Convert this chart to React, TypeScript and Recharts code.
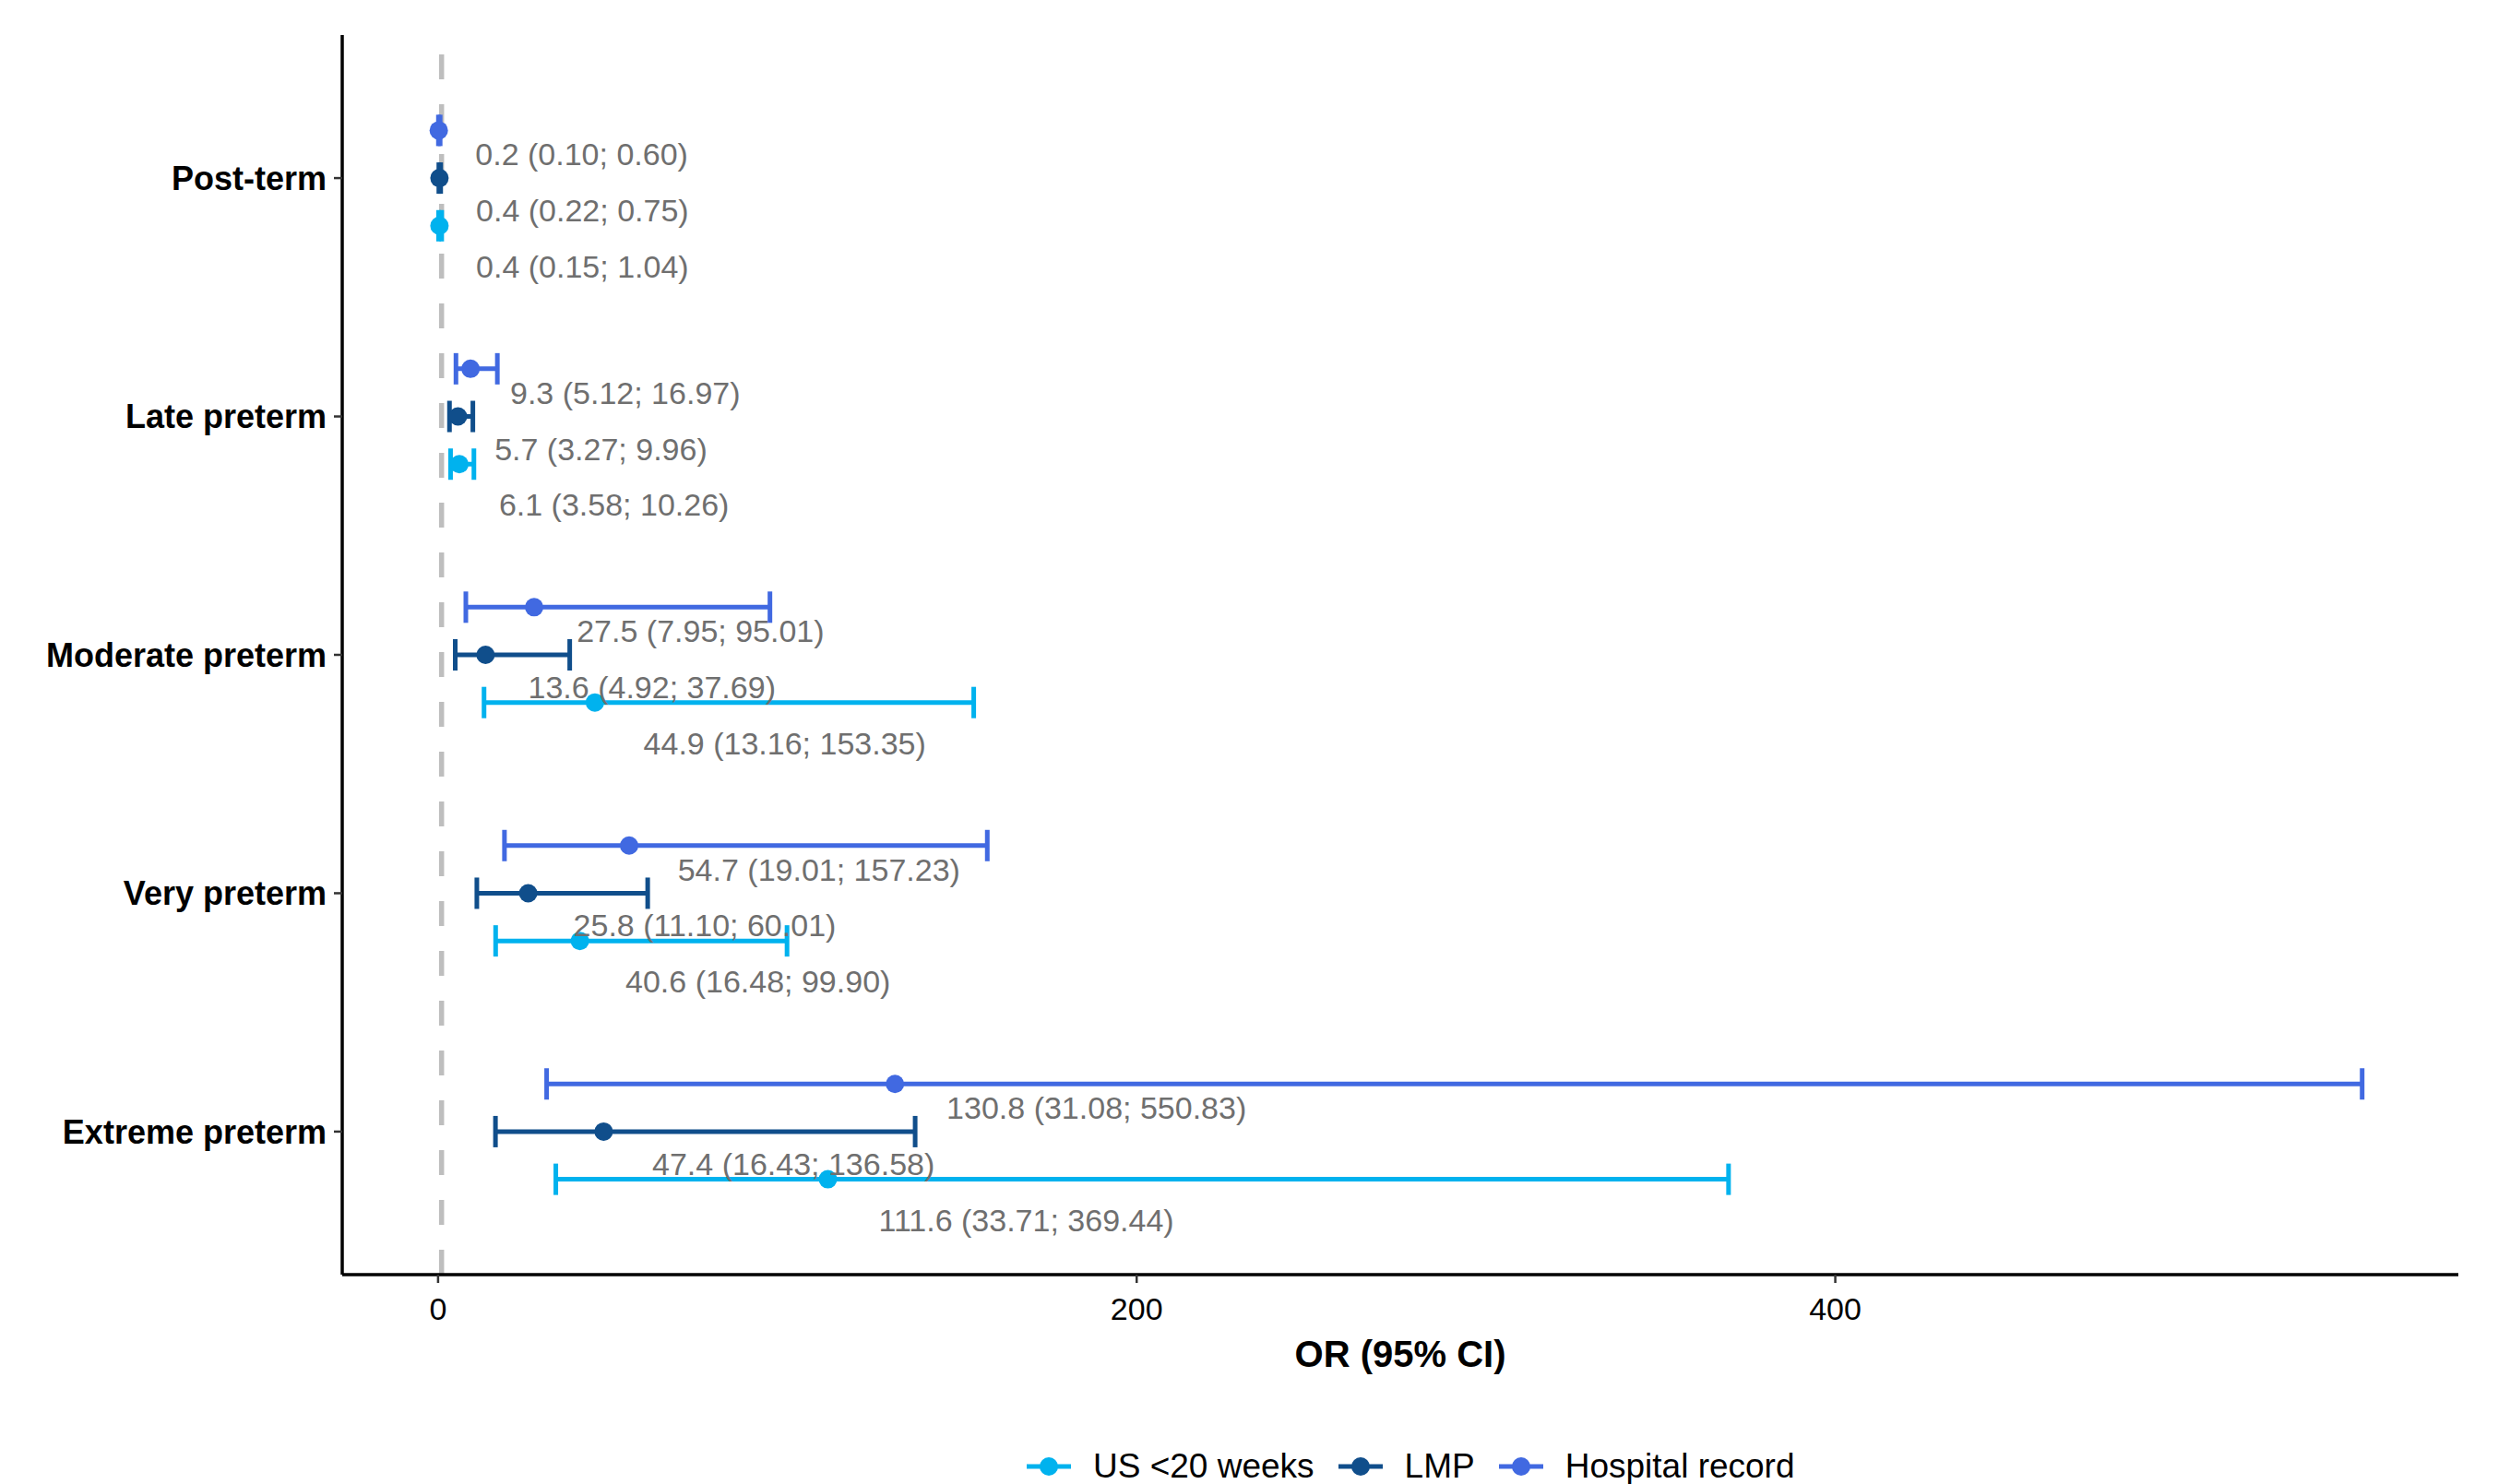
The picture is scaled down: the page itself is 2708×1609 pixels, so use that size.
import React from 'react';
import { ScatterChart, Scatter, XAxis, YAxis, ErrorBar, ReferenceLine } from 'recharts';

// categories bottom -> top, like the ggplot discrete axis
const categories = ['Extreme preterm', 'Very preterm', 'Moderate preterm', 'Late preterm', 'Post-term'];
const seriesNames = ['US <20 weeks', 'LMP', 'Hospital record'];

const usOr = [111.6, 40.6, 44.9, 6.1, 0.4];
const usLower = [33.71, 16.48, 13.16, 3.58, 0.15];
const usUpper = [369.44, 99.9, 153.35, 10.26, 1.04];

const lmpOr = [47.4, 25.8, 13.6, 5.7, 0.4];
const lmpLower = [16.43, 11.1, 4.92, 3.27, 0.22];
const lmpUpper = [136.58, 60.01, 37.69, 9.96, 0.75];

const hospOr = [130.8, 54.7, 27.5, 9.3, 0.2];
const hospLower = [31.08, 19.01, 7.95, 5.12, 0.1];
const hospUpper = [550.83, 157.23, 95.01, 16.97, 0.6];

const xTicks = [0, 200, 400];
const refValue = 1;

const COLORS = ['#00b2ee', '#104e8b', '#4169e1'];
const DODGE = [-0.2, 0, 0.2];
const LABEL_DY = [44, 35, 26];
const FONT = "'Liberation Sans', Arial, Helvetica, sans-serif";
const LABEL_SIZE = 34;

let ctx: CanvasRenderingContext2D | null = null;
const textWidth = (s: string) => {
  if (!ctx) ctx = document.createElement('canvas').getContext('2d');
  if (!ctx) return s.length * 15;
  ctx.font = `${LABEL_SIZE}px ${FONT}`;
  return ctx.measureText(s).width;
};

const buildRows = (or: number[], lo: number[], hi: number[], s: number) =>
  or.map((v, i) => ({
    x: v,
    y: i + 1 + DODGE[s],
    err: [v - lo[i], hi[i] - v],
    label: `${v.toFixed(1)} (${lo[i].toFixed(2)}; ${hi[i].toFixed(2)})`,
    s,
  }));

const series = [
  buildRows(usOr, usLower, usUpper, 0),
  buildRows(lmpOr, lmpLower, lmpUpper, 1),
  buildRows(hospOr, hospLower, hospUpper, 2),
];

// ggplot style 5% expansion on continuous x
const allVals = [...usLower, ...usUpper, ...lmpLower, ...lmpUpper, ...hospLower, ...hospUpper];
const xMin = Math.min(...allVals);
const xMax = Math.max(...allVals);
const pad = (xMax - xMin) * 0.05;
const xDomain = [xMin - pad, xMax + pad];

const Dot = (color: string) => (props: any) => {
  const { cx, cy } = props;
  return <circle cx={cx} cy={cy} r={10} fill={color} />;
};

const LabelShape = (props: any) => {
  const { cx, cy, payload } = props;
  const w = textWidth(payload.label);
  return (
    <text
      x={cx + w * 0.172}
      y={cy + LABEL_DY[payload.s]}
      fontSize={LABEL_SIZE}
      fontFamily={FONT}
      fill="#6f6f6f"
      dominantBaseline="central"
    >
      {payload.label}
    </text>
  );
};

const Legend = () => (
  <div
    style={{
      position: 'absolute',
      left: 1113,
      top: 1570,
      display: 'flex',
      alignItems: 'center',
      fontFamily: FONT,
      fontSize: 37,
      color: '#000',
      whiteSpace: 'nowrap',
      lineHeight: '40px',
    }}
  >
    {seriesNames.map((name, i) => (
      <div key={name} style={{ display: 'flex', alignItems: 'center', marginRight: 26 }}>
        <svg width={48} height={40}>
          <line x1={0} y1={20} x2={48} y2={20} stroke={COLORS[i]} strokeWidth={5} />
          <circle cx={24} cy={20} r={10} fill={COLORS[i]} />
        </svg>
        <span style={{ marginLeft: 24 }}>{name}</span>
      </div>
    ))}
  </div>
);

export default function App() {
  return (
    <div style={{ position: 'absolute', left: 0, top: 0, width: 2708, height: 1609, background: '#fff', overflow: 'hidden' }}>
      <ScatterChart width={2708} height={1609} margin={{ top: 38, right: 43, left: 0, bottom: 0 }}>
        <XAxis
          type="number"
          dataKey="x"
          domain={xDomain}
          ticks={xTicks}
          allowDataOverflow
          height={227}
          axisLine={{ stroke: '#000', strokeWidth: 3.5 }}
          tickLine={{ stroke: '#333', strokeWidth: 2.5 }}
          tickSize={9}
          tickMargin={16}
          tick={{ fontSize: 34, fontFamily: FONT, fill: '#000' }}
          label={{
            value: 'OR (95% CI)',
            position: 'insideTop',
            offset: 72,
            style: { fontSize: 40, fontWeight: 'bold', fontFamily: FONT, fill: '#000' },
          }}
        />
        <YAxis
          type="number"
          dataKey="y"
          domain={[0.4, 5.6]}
          ticks={[1, 2, 3, 4, 5]}
          tickFormatter={(v: number) => categories[Math.round(v) - 1]}
          allowDataOverflow
          width={371}
          axisLine={{ stroke: '#000', strokeWidth: 3.5 }}
          tickLine={{ stroke: '#333', strokeWidth: 2.5 }}
          tickSize={9}
          tickMargin={8}
          tick={{ fontSize: 36, fontWeight: 'bold', fontFamily: FONT, fill: '#000' }}
        />
        <ReferenceLine x={refValue} stroke="#bebebe" strokeWidth={5.5} strokeDasharray="27 27" />
        {series.map((rows, s) => (
          <Scatter
            key={seriesNames[s]}
            name={seriesNames[s]}
            data={rows}
            shape={Dot(COLORS[s])}
            isAnimationActive={false}
          >
            <ErrorBar
              dataKey="err"
              direction="x"
              width={17}
              stroke={COLORS[s]}
              strokeWidth={5}
              isAnimationActive={false}
            />
          </Scatter>
        ))}
        {series.map((rows, s) => (
          <Scatter
            key={`lab-${s}`}
            data={rows}
            shape={LabelShape}
            legendType="none"
            isAnimationActive={false}
          />
        ))}
      </ScatterChart>
      <Legend />
    </div>
  );
}
